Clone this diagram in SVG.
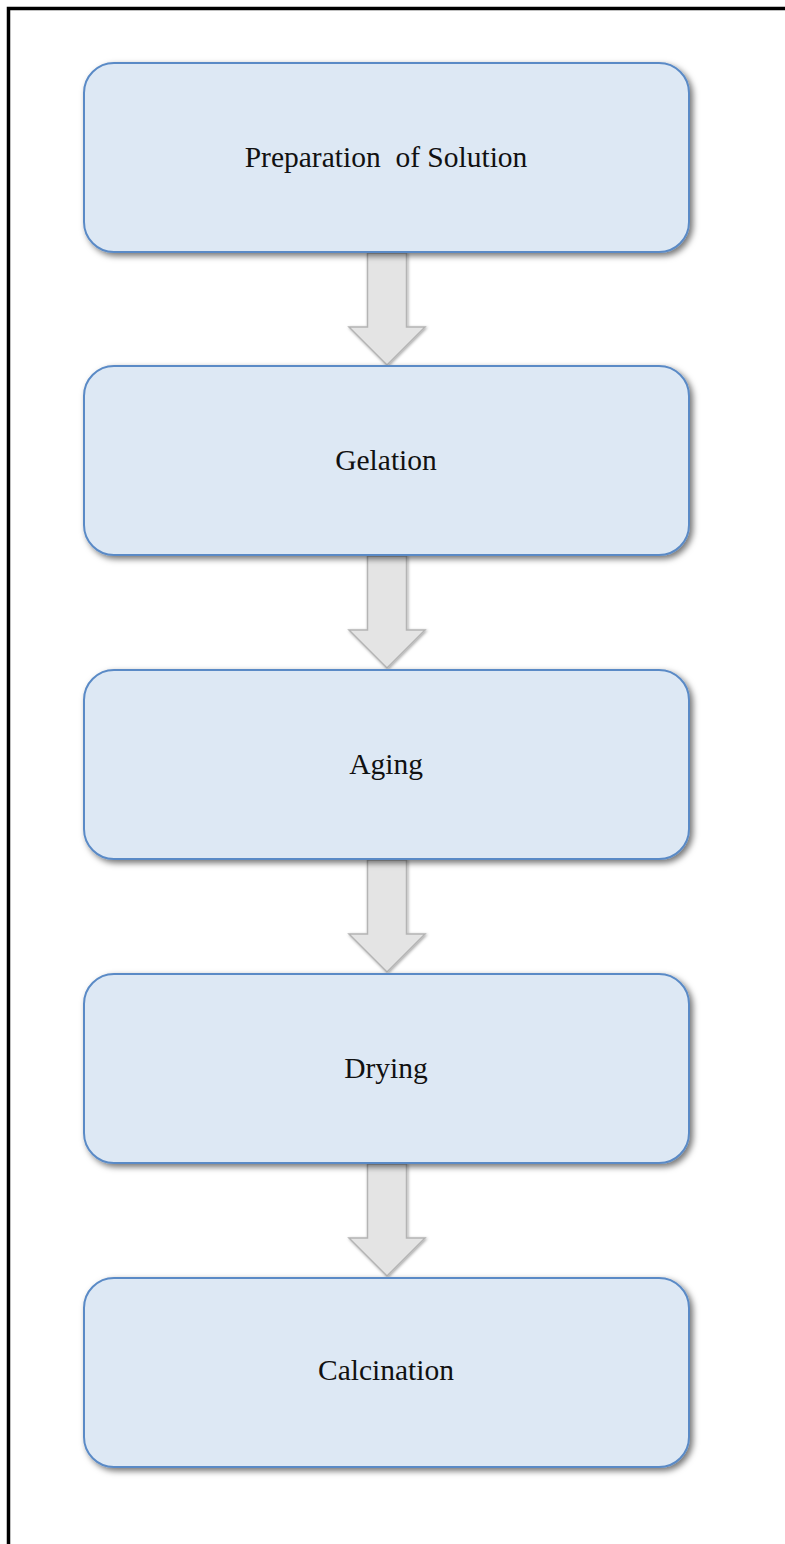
<svg xmlns="http://www.w3.org/2000/svg" width="785" height="1544" viewBox="0 0 785 1544">
<defs>
<filter id="sh" x="-10%" y="-10%" width="125%" height="130%">
<feDropShadow dx="3" dy="3" stdDeviation="3" flood-color="#000" flood-opacity="0.55"/>
</filter>
<filter id="ash" x="-30%" y="-10%" width="160%" height="130%">
<feDropShadow dx="1" dy="1" stdDeviation="1.5" flood-color="#000" flood-opacity="0.35"/>
</filter>
<path id="arr" d="M-19.5,0 L19.5,0 L19.5,74 L38,74 L0,112 L-38,74 L-19.5,74 Z"/>
</defs>
<style>
.box{fill:#dde8f4;stroke:#5a8ac6;stroke-width:2;filter:url(#sh)}
.lbl{font-family:"Liberation Serif","Times New Roman",serif;font-size:29.5px;fill:#111;text-anchor:middle;white-space:pre}
.ar{fill:#e4e4e4;stroke:#b4b4b4;stroke-width:1.5;filter:url(#ash)}
</style>
<rect width="785" height="1544" fill="#fff"/>
<path d="M8.5,1544 L8.5,8.5 L785,8.5" fill="none" stroke="#000" stroke-width="3.5"/>
<g id="connectors">
<use href="#arr" class="ar" x="387" y="253"/>
<use href="#arr" class="ar" x="387" y="556"/>
<use href="#arr" class="ar" x="387" y="860"/>
<use href="#arr" class="ar" x="387" y="1164"/>
</g>
<g id="n1"><rect class="box" x="84" y="63" width="605" height="189" rx="30"/><text class="lbl" x="386" y="167" xml:space="preserve">Preparation  of Solution</text></g>
<g id="n2"><rect class="box" x="84" y="366" width="605" height="189" rx="30"/><text class="lbl" x="386" y="470">Gelation</text></g>
<g id="n3"><rect class="box" x="84" y="670" width="605" height="189" rx="30"/><text class="lbl" x="386" y="774">Aging</text></g>
<g id="n4"><rect class="box" x="84" y="974" width="605" height="189" rx="30"/><text class="lbl" x="386" y="1078">Drying</text></g>
<g id="n5"><rect class="box" x="84" y="1278" width="605" height="189" rx="30"/><text class="lbl" x="386" y="1380">Calcination</text></g>
</svg>
